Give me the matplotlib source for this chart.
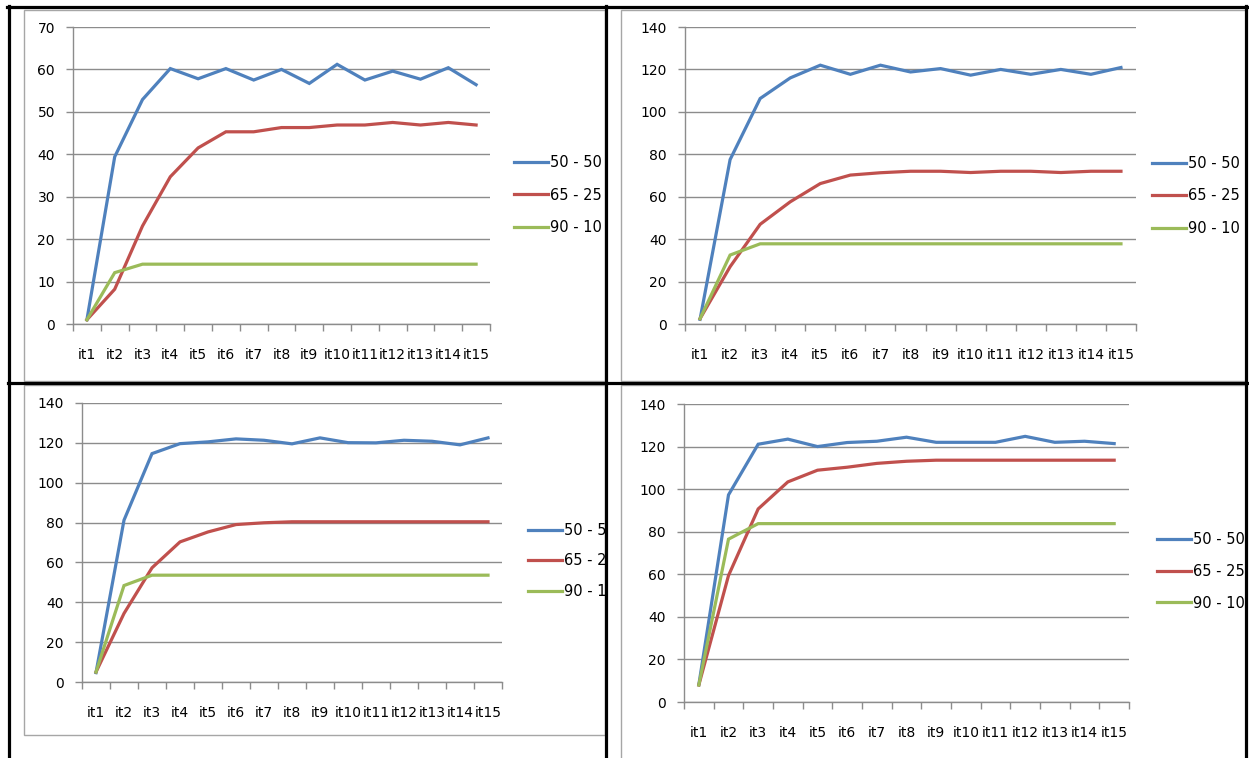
import numpy as np
import matplotlib
matplotlib.use("Agg")
import matplotlib.pyplot as plt
from matplotlib.patches import Rectangle
from matplotlib.lines import Line2D

# iterations on the category axis
iterations = ["it%d" % i for i in range(1, 16)]
series_names = ["50 - 50", "65 - 25", "90 - 10"]

# top-left chart
tl_5050 = [1, 39.4, 52.9, 60.2, 57.8, 60.2, 57.5, 60.0, 56.7, 61.2, 57.5, 59.6, 57.7, 60.4, 56.4]
tl_6525 = [1, 8.2, 23.1, 34.7, 41.5, 45.3, 45.3, 46.3, 46.3, 46.9, 46.9, 47.5, 46.9, 47.5, 46.9]
tl_9010 = [1, 12.1, 14.1, 14.1, 14.1, 14.1, 14.1, 14.1, 14.1, 14.1, 14.1, 14.1, 14.1, 14.1, 14.1]

# top-right chart
tr_5050 = [2.2, 77.5, 106.3, 116.0, 122.0, 117.7, 122.0, 118.8, 120.4, 117.3, 120.0, 117.7, 120.0, 117.7, 120.9]
tr_6525 = [2.5, 27.0, 47.0, 57.6, 66.2, 70.2, 71.3, 72.0, 72.0, 71.4, 72.0, 72.0, 71.4, 72.0, 72.0]
tr_9010 = [2.5, 32.5, 37.8, 37.8, 37.8, 37.8, 37.8, 37.8, 37.8, 37.8, 37.8, 37.8, 37.8, 37.8, 37.8]

# bottom-left chart
bl_5050 = [4.7, 81.2, 114.6, 119.6, 120.5, 122.0, 121.3, 119.5, 122.5, 120.1, 120.0, 121.3, 120.8, 119.0, 122.5]
bl_6525 = [5.0, 34.4, 57.3, 70.3, 75.3, 79.0, 79.9, 80.4, 80.4, 80.4, 80.4, 80.4, 80.4, 80.4, 80.4]
bl_9010 = [5.0, 48.4, 53.6, 53.6, 53.6, 53.6, 53.6, 53.6, 53.6, 53.6, 53.6, 53.6, 53.6, 53.6, 53.6]

# bottom-right chart
br_5050 = [8.1, 97.3, 121.1, 123.5, 120.0, 121.9, 122.5, 124.4, 122.0, 122.0, 122.0, 124.8, 122.0, 122.5, 121.4]
br_6525 = [8.0, 59.4, 90.7, 103.4, 108.9, 110.3, 112.1, 113.1, 113.6, 113.6, 113.6, 113.6, 113.6, 113.6, 113.6]
br_9010 = [8.0, 76.5, 83.8, 83.8, 83.8, 83.8, 83.8, 83.8, 83.8, 83.8, 83.8, 83.8, 83.8, 83.8, 83.8]

colors = ["#4F81BD", "#C0504D", "#9BBB59"]
grid_color = "#8c8c8c"

W, H = 1249, 758
fig = plt.figure(figsize=(W / 100, H / 100), dpi=100)
fig.patch.set_facecolor("white")


def fx(px):
    return px / W


def fy(py):
    return 1 - py / H


def make_chart(box, data, ymax, ystep, legend_xy, spacing, frame):
    # box = (left, top, right, bottom) in pixels of the plot area
    l, t, r, b = box
    ax = fig.add_axes([fx(l), fy(b), fx(r - l), (b - t) / H])
    ax.set_facecolor("none")
    x = np.arange(len(iterations))
    handles = []
    for vals, c in zip(data, colors):
        h, = ax.plot(x, vals, color=c, lw=2.3, solid_joinstyle="miter")
        handles.append(h)
    ax.set_xlim(-0.5, len(iterations) - 0.5)
    ax.set_ylim(0, ymax)
    ax.set_yticks(np.arange(0, ymax + 1, ystep))
    ax.set_xticks(x)
    ax.set_xticklabels(iterations)
    ax.set_xticks(np.arange(-0.5, len(iterations)), minor=True)
    ax.tick_params(axis="x", which="major", length=0, pad=17, labelsize=10)
    ax.tick_params(axis="x", which="minor", length=5, color=grid_color, width=1)
    ax.tick_params(axis="y", length=5, color=grid_color, width=1, pad=8, labelsize=10)
    ax.grid(axis="y", color=grid_color, lw=1)
    ax.set_axisbelow(True)
    for s in ["top", "right"]:
        ax.spines[s].set_visible(False)
    for s in ["left", "bottom"]:
        ax.spines[s].set_color(grid_color)
        ax.spines[s].set_linewidth(1)
    lx, ly = legend_xy
    ax.legend(handles, series_names, loc="upper left",
              bbox_to_anchor=(fx(lx), fy(ly)), bbox_transform=fig.transFigure,
              frameon=False, fontsize=10.5, handlelength=2.3, handletextpad=0.15,
              labelspacing=spacing, borderpad=0, borderaxespad=0)
    fl, ft, fr, fb = frame
    fig.add_artist(Rectangle((fx(fl), fy(fb)), fx(fr - fl), (fb - ft) / H,
                             transform=fig.transFigure, fill=False,
                             edgecolor="#a6a6a6", lw=1, zorder=-1))
    return ax


make_chart((73, 27, 490, 324), [tl_5050, tl_6525, tl_9010], 70, 10,
           (514, 155), 1.2, (24, 10, 605, 381))
make_chart((685, 27, 1136, 324), [tr_5050, tr_6525, tr_9010], 140, 20,
           (1152, 156), 1.2, (621, 10, 1246, 381))
make_chart((82, 403, 502, 682), [bl_5050, bl_6525, bl_9010], 140, 20,
           (528, 523), 1.05, (24, 385, 605, 735))
make_chart((684, 404, 1129, 702), [br_5050, br_6525, br_9010], 140, 20,
           (1157, 532), 1.15, (621, 385, 1246, 800))

# cover the legend text that runs past the page grid
fig.add_artist(Rectangle((fx(606), 0), fx(14), fy(385), transform=fig.transFigure,
                         facecolor="white", edgecolor="none", zorder=5))
fig.add_artist(Rectangle((fx(1246), 0), fx(3), 1, transform=fig.transFigure,
                         facecolor="white", edgecolor="none", zorder=5))

# black table-like grid around the four charts
lw = 2.3
for xs, ys in [((7, 1247), (6.5, 6.5)),
               ((8.5, 8.5), (6, 758)),
               ((1245.5, 1245.5), (6, 758)),
               ((605.5, 605.5), (6, 758)),
               ((8, 1247), (383.5, 383.5))]:
    fig.add_artist(Line2D([fx(v) for v in xs], [fy(v) for v in ys],
                          transform=fig.transFigure, color="black", lw=lw, zorder=6))

fig.savefig("out.png", dpi=100, facecolor="white")
